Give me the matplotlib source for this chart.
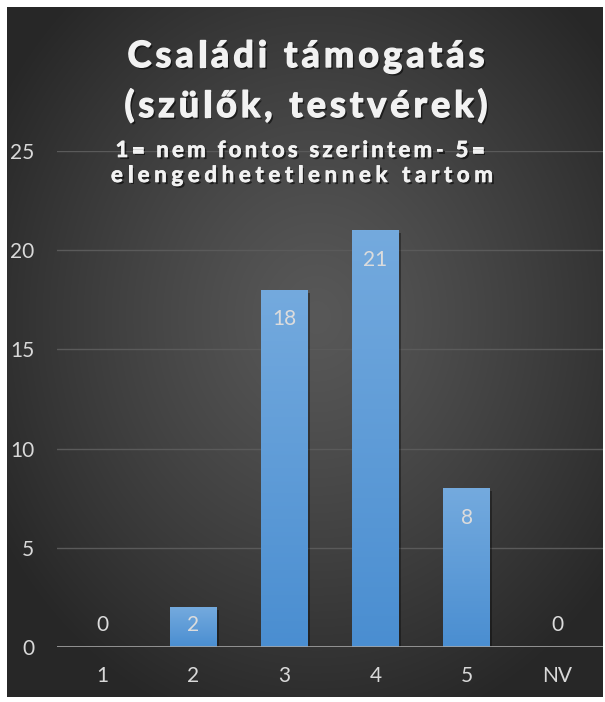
import numpy as np
import matplotlib.pyplot as plt
from matplotlib import patheffects as pe
from matplotlib.colors import LinearSegmentedColormap
from matplotlib.font_manager import FontProperties, findfont, get_font

categories = ['1', '2', '3', '4', '5', 'NV']
counts = [0, 2, 18, 21, 8, 0]
y_ticks = [0, 5, 10, 15, 20, 25]
title_lines = ['Családi támogatás', '(szülők, testvérek)']
subtitle_lines = ['1= nem fontos szerintem- 5=', 'elengedhetetlennek tartom']

W, H = 605, 702
DPI = 100
FONT = 'Lato'

fig = plt.figure(figsize=(W / DPI, H / DPI), dpi=DPI)
fig.patch.set_facecolor('white')

# dark panel, radial gradient lighter in the middle
bg = fig.add_axes([7 / W, 5 / H, 596 / W, 690 / H])
yy, xx = np.mgrid[0:1:400j, 0:1:400j]
r = np.hypot((xx - 0.52) / 0.62, (yy - 0.45) / 0.62)
shade = 0.345 - 0.19 * np.clip(r, 0, 1) ** 1.2
bg.imshow(np.dstack([shade] * 3), extent=[0, 1, 0, 1], origin='upper',
          aspect='auto', interpolation='bicubic')
bg.set_axis_off()

ax = fig.add_axes([57 / W, 55 / H, 546 / W, 496 / H])
ax.set_facecolor('none')

x = np.arange(len(categories))
bars = ax.bar(x, counts, width=0.51, color='#5b9bd5', zorder=2)
bar_cmap = LinearSegmentedColormap.from_list('bar', ['#4a8ed1', '#74aade'])
grad = np.linspace(0, 1, 256)[:, None]
for b in bars:
    b.set_path_effects([pe.SimplePatchShadow(offset=(2, -2), shadow_rgbFace='black', alpha=0.35),
                        pe.Normal()])
    if b.get_height() > 0:
        im = ax.imshow(grad, cmap=bar_cmap, origin='lower', aspect='auto', zorder=2.5,
                       extent=[b.get_x(), b.get_x() + b.get_width(), 0, b.get_height()])
        im.set_clip_path(b)

for xi, v in zip(x, counts):
    ax.text(xi, max(v - 1.79, 0.83), str(v), ha='center', va='baseline',
            fontsize=15, family=FONT, color='#dcdcdc', zorder=4)

ax.set_xlim(-0.5, len(categories) - 0.5)
ax.set_ylim(0, 25)
ax.set_yticks(y_ticks)
ax.set_xticks(x)
ax.set_xticklabels(categories)
ax.yaxis.grid(True, color='#5a5a5a', lw=1, zorder=0)
ax.set_axisbelow(True)
ax.axhline(0, color='#a6a6a6', lw=2, alpha=0.9, zorder=3)
for s in ax.spines.values():
    s.set_visible(False)
ax.tick_params(axis='both', length=0, labelsize=15, labelcolor='#d9d9d9')
ax.tick_params(axis='y', pad=16.5)
ax.tick_params(axis='x', pad=14)
for lab in ax.get_xticklabels() + ax.get_yticklabels():
    lab.set_family(FONT)


def spaced(text, cx, baseline, size, width, stroke, color='#f2f2f2'):
    # draw text with letter spacing so it spans the given pixel width
    prop = FontProperties(family=FONT, weight='bold', size=size)
    font = get_font(findfont(prop))
    font.set_size(size, DPI)
    adv = [font.load_char(ord(c)).linearHoriAdvance / 65536 for c in text]
    gap = (width - sum(adv)) / (len(text) - 1)
    effects = [pe.SimplePatchShadow(offset=(1.5, -1.5), shadow_rgbFace='black', alpha=0.55),
               pe.Stroke(linewidth=stroke, foreground=color), pe.Normal()]
    px = cx - width / 2
    for c, a in zip(text, adv):
        fig.text(px / W, 1 - baseline / H, c, fontproperties=prop, color=color,
                 ha='left', va='baseline', path_effects=effects, zorder=5)
        px += a + gap


spaced(title_lines[0], 306, 67, 26, 357, 1.0)
spaced(title_lines[1], 306, 117, 26, 363, 1.0)
spaced(subtitle_lines[0], 300, 157, 16, 369, 0.5)
spaced(subtitle_lines[1], 302, 182, 16, 382, 0.5)

fig.savefig('out.png', dpi=DPI, facecolor=fig.get_facecolor())
